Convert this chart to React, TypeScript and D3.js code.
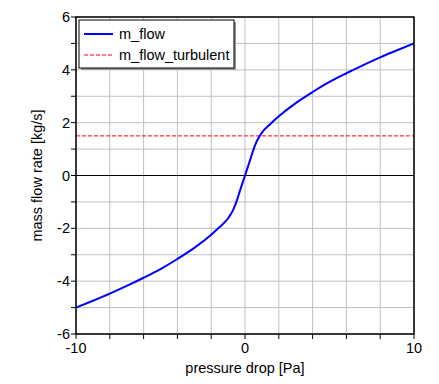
import React from 'react';
import * as d3 from 'd3';

// pressure drop [Pa] vs. mass flow rate [kg/s]
const dpValues = [-10, -9, -8, -7, -6, -5, -4, -3, -2, -1.5, -1, -0.7, -0.5, -0.3, -0.15, 0,
  0.15, 0.3, 0.5, 0.7, 1, 1.5, 2, 3, 4, 5, 6, 7, 8, 9, 10];
const flowValues = [-5.0, -4.74, -4.47, -4.18, -3.87, -3.54, -3.16, -2.74, -2.24, -1.95, -1.62, -1.3, -0.98, -0.58, -0.29, 0,
  0.29, 0.58, 0.98, 1.3, 1.62, 1.95, 2.24, 2.74, 3.16, 3.54, 3.87, 4.18, 4.47, 4.74, 5.0];
const turbulentValue = 1.5;

const xTickLabels = [-10, 0, 10];
const xTickMarks = [-10, -8, -6, -4, -2, 0, 2, 4, 6, 8, 10];
const yTickLabels = [-6, -4, -2, 0, 2, 4, 6];
const yTickMarks = [-6, -5, -4, -3, -2, -1, 0, 1, 2, 3, 4, 5, 6];

const seriesNames = ['m_flow', 'm_flow_turbulent'];

const App = () => {
  const width = 439;
  const height = 384;
  const left = 76;
  const right = 414;
  const top = 17;
  const bottom = 334;

  const x = d3.scaleLinear().domain([-10, 10]).range([left, right]);
  const y = d3.scaleLinear().domain([-6, 6]).range([bottom, top]);

  const line = d3.line<number>()
    .x((d, i) => x(dpValues[i]))
    .y(d => y(d))
    .curve(d3.curveMonotoneX);

  const font = '"Liberation Sans", Arial, sans-serif';
  const fs = 14.5;

  return (
    <svg width={width} height={height}
      style={{ position: 'absolute', left: 0, top: 0, background: '#fff' }}
      fontFamily={font}>
      {/* grid */}
      {xTickMarks.map(t => (
        <line key={'gx' + t} x1={x(t)} x2={x(t)} y1={top} y2={bottom} stroke="#c0c0c0" strokeWidth={1} />
      ))}
      {yTickMarks.map(t => (
        <line key={'gy' + t} x1={left} x2={right} y1={y(t)} y2={y(t)} stroke="#c0c0c0" strokeWidth={1} />
      ))}
      {/* zero line */}
      <line x1={left} x2={right} y1={y(0)} y2={y(0)} stroke="#000" strokeWidth={1} />

      {/* turbulent */}
      <line x1={left} x2={right} y1={y(turbulentValue)} y2={y(turbulentValue)}
        stroke="#ff0000" strokeWidth={1} strokeDasharray="4,2" />

      {/* m_flow */}
      <path d={line(flowValues) || ''} fill="none" stroke="#0000ff" strokeWidth={2} />

      {/* frame */}
      <rect x={left} y={top} width={right - left} height={bottom - top} fill="none" stroke="#000" strokeWidth={1.5} />

      {/* ticks */}
      {xTickMarks.map(t => (
        <line key={'tx' + t} x1={x(t)} x2={x(t)} y1={bottom} y2={bottom + 5} stroke="#000" strokeWidth={1} />
      ))}
      {yTickMarks.map(t => (
        <line key={'ty' + t} x1={left - 5} x2={left} y1={y(t)} y2={y(t)} stroke="#000" strokeWidth={1} />
      ))}
      {xTickLabels.map(t => (
        <text key={'lx' + t} x={x(t)} y={bottom + 19} textAnchor="middle" fontSize={fs}>{t}</text>
      ))}
      {yTickLabels.map(t => (
        <text key={'ly' + t} x={left - 6} y={y(t) + 5} textAnchor="end" fontSize={fs}>{t}</text>
      ))}

      {/* axis titles */}
      <text x={(left + right) / 2} y={373} textAnchor="middle" fontSize={fs}>pressure drop [Pa]</text>
      <text transform={`translate(42,${(top + bottom) / 2}) rotate(-90)`} textAnchor="middle" fontSize={fs}>
        mass flow rate [kg/s]
      </text>

      {/* legend */}
      <rect x={81} y={22} width={155} height={48} fill="#999" />
      <rect x={79} y={20} width={155} height={48} fill="#fff" stroke="#000" strokeWidth={1} />
      <line x1={84} x2={113} y1={34} y2={34} stroke="#0000ff" strokeWidth={2} />
      <text x={119} y={39} fontSize={fs}>{seriesNames[0]}</text>
      <line x1={84} x2={113} y1={55} y2={55} stroke="#ff0000" strokeWidth={1} strokeDasharray="4,2" />
      <text x={119} y={60} fontSize={fs}>{seriesNames[1]}</text>
    </svg>
  );
};

export default App;
